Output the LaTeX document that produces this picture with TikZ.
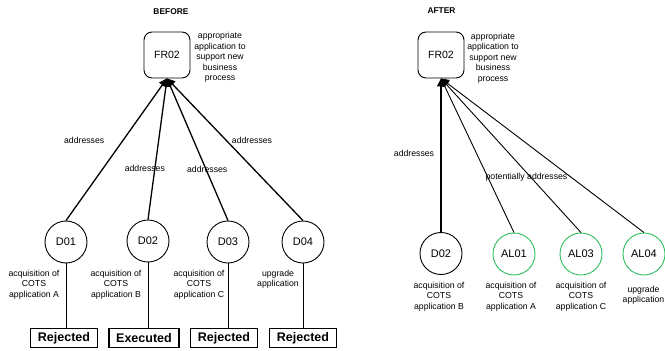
\documentclass[tikz,border=0pt]{standalone}
\usepackage{fontspec}
\setmainfont{Liberation Sans}
\usetikzlibrary{arrows.meta}
\definecolor{altgreen}{RGB}{46,190,96}

\begin{document}
\begin{tikzpicture}[x=1pt,y=-1pt,
  every node/.style={font=\fontsize{8.7}{10.4}\selectfont, inner sep=0pt},
  heading/.style={font=\bfseries\fontsize{8.4}{10}\selectfont},
  reqbox/.style={draw, rounded corners=8pt, minimum width=46pt, minimum height=46pt,
    font=\fontsize{10.5}{12}\selectfont, line width=0.9pt},
  note/.style={align=center},
  decision/.style={draw, circle, minimum size=42pt, font=\fontsize{11}{13}\selectfont, line width=0.9pt},
  altdecision/.style={decision, draw=altgreen},
  status/.style={draw, line width=1.6pt, font=\bfseries\fontsize{12.5}{14}\selectfont,
    minimum height=19pt, inner xsep=7.5pt},
  link/.style={line width=1.3pt, -{Triangle[length=8pt,width=8pt]}},
  thinlink/.style={line width=0.9pt, -{Triangle[length=8pt,width=8pt]}},
  stem/.style={line width=0.9pt}]

\useasboundingbox (0,0) rectangle (665,351);

% ---------- before ----------
\node[heading] (tB) at (171,12) {BEFORE};
\node[reqbox] (FRb) at (167,55) {FR02};
\node[note] (dB) at (220,57.5) {appropriate\\application to\\support new\\business\\process};

\node[decision] (D01) at (66,242) {D01};
\node[decision] (D02) at (148,241) {D02};
\node[decision] (D03) at (228,242) {D03};
\node[decision] (D04) at (303,242) {D04};

\draw[link] (D01.north) -- (FRb.south) node[pos=0.566, xshift=-39pt] {addresses};
\draw[link] (D02.north) -- (FRb.south) node[pos=0.36, xshift=-10pt] {addresses};
\draw[link] (D03.north) -- (FRb.south) node[pos=0.357, xshift=1pt] {addresses};
\draw[link] (D04.north) -- (FRb.south) node[pos=0.566, xshift=26pt] {addresses};

\node[note, anchor=north] (l1) at (34,270) {acquisition of\\COTS\\application A};
\node[note, anchor=north] (l2) at (116,270) {acquisition of\\COTS\\application B};
\node[note, anchor=north] (l3) at (199,270) {acquisition of\\COTS\\application C};
\node[note, anchor=north] (l4) at (278,270) {upgrade\\application};

\node[status] (S1) at (64,338) {Rejected};
\node[status] (S2) at (144,338) {Executed};
\node[status] (S3) at (224,338) {Rejected};
\node[status] (S4) at (303,338) {Rejected};

\draw[stem] (D01.south) -- (D01.south |- S1.north);
\draw[stem] (D02.south) -- (D02.south |- S2.north);
\draw[stem] (D03.south) -- (D03.south |- S3.north);
\draw[stem] (D04.south) -- (D04.south |- S4.north);

% ---------- after ----------
\node[heading] (tA) at (441.5,11) {AFTER};
\node[reqbox] (FRa) at (441,55) {FR02};
\node[note] (dA) at (493,58) {appropriate\\application to\\support new\\business\\process};

\node[decision] (E02) at (441,253.5) {D02};
\node[altdecision] (AL01) at (514,254) {AL01};
\node[altdecision] (AL03) at (581,254) {AL03};
\node[altdecision] (AL04) at (644,254) {AL04};

\draw[link] (E02.north) -- (FRa.south) node[pos=0.513, xshift=-27pt] {addresses};
\draw[thinlink] (AL01.north) -- (FRa.south);
\draw[thinlink] (AL03.north) -- (FRa.south) node[pos=0.361, xshift=-4pt] {potentially addresses};
\draw[thinlink] (AL04.north) -- (FRa.south);

\node[note, anchor=north] (m1) at (439,282) {acquisition of\\COTS\\application B};
\node[note, anchor=north] (m2) at (511,282) {acquisition of\\COTS\\application A};
\node[note, anchor=north] (m3) at (581,282) {acquisition of\\COTS\\application C};
\node[note, anchor=north] (m4) at (643.5,286) {upgrade\\application};

\end{tikzpicture}
\end{document}
